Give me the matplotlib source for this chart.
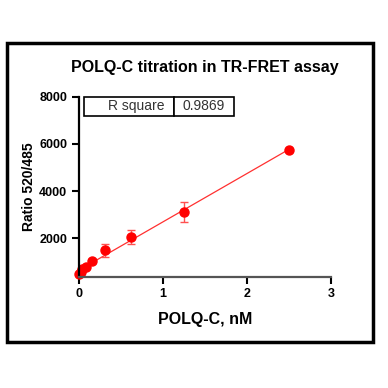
import matplotlib.pyplot as plt
from matplotlib.patches import Rectangle
import numpy as np

plt.rcParams['font.family'] = ['Liberation Sans', 'DejaVu Sans']

conc = [0, 0.0195, 0.039, 0.078, 0.156, 0.3125, 0.625, 1.25, 2.5]
ratio = [490, 590, 690, 800, 1050, 1500, 2070, 3130, 5740]
err = [40, 40, 50, 60, 80, 280, 300, 430, 60]
r_square = "0.9869"

# linear fit line
slope, icpt = np.polyfit(conc, ratio, 1)
fx = np.array([0, max(conc)])

fig = plt.figure(figsize=(3.88, 3.88), dpi=100)
ax = fig.add_axes([0.2036, 0.287, 0.649, 0.464])

ax.plot(fx, slope * fx + icpt, color='#ff3030', lw=0.9)
ax.errorbar(conc, ratio, yerr=err, fmt='o', color='#ff0000', ms=6.5,
            ecolor='#ff5050', elinewidth=1, capsize=3, capthick=1, clip_on=False)

ax.set_xlim(0, 3)
ax.set_ylim(380, 8000)
ax.set_xticks([0, 1, 2, 3])
ax.set_yticks([2000, 4000, 6000, 8000])
ax.spines['top'].set_visible(False)
ax.spines['right'].set_visible(False)
ax.spines['left'].set_linewidth(1.6)
ax.spines['bottom'].set_linewidth(1.6)
ax.spines['bottom'].set_color('#555555')
ax.tick_params(width=1.5, length=5, labelsize=9)
for lb in ax.get_xticklabels() + ax.get_yticklabels():
    lb.set_fontweight('bold')

ax.set_title("POLQ-C titration in TR-FRET assay", fontsize=11.5, fontweight='bold', pad=18)
ax.set_xlabel("POLQ-C, nM", fontsize=11.5, fontweight='bold', labelpad=8)
ax.set_ylabel("Ratio 520/485", fontsize=10, fontweight='bold', labelpad=2)

tb = ax.table(cellText=[["R square", r_square]], colWidths=[0.6, 0.4],
              bbox=[0.02, 0.894, 0.595, 0.106], cellLoc='right')
tb.auto_set_font_size(False)
tb.set_fontsize(10)
for (r, c), cell in tb.get_celld().items():
    cell.set_linewidth(1.2)
    cell.get_text().set_color('#333333')
    if c == 1:
        cell.get_text().set_horizontalalignment('center')

fig.patches.append(Rectangle((0.018, 0.1186), 0.943, 0.771, transform=fig.transFigure,
                             fill=False, lw=2.5, ec='black'))

fig.savefig("out.png", dpi=100)
